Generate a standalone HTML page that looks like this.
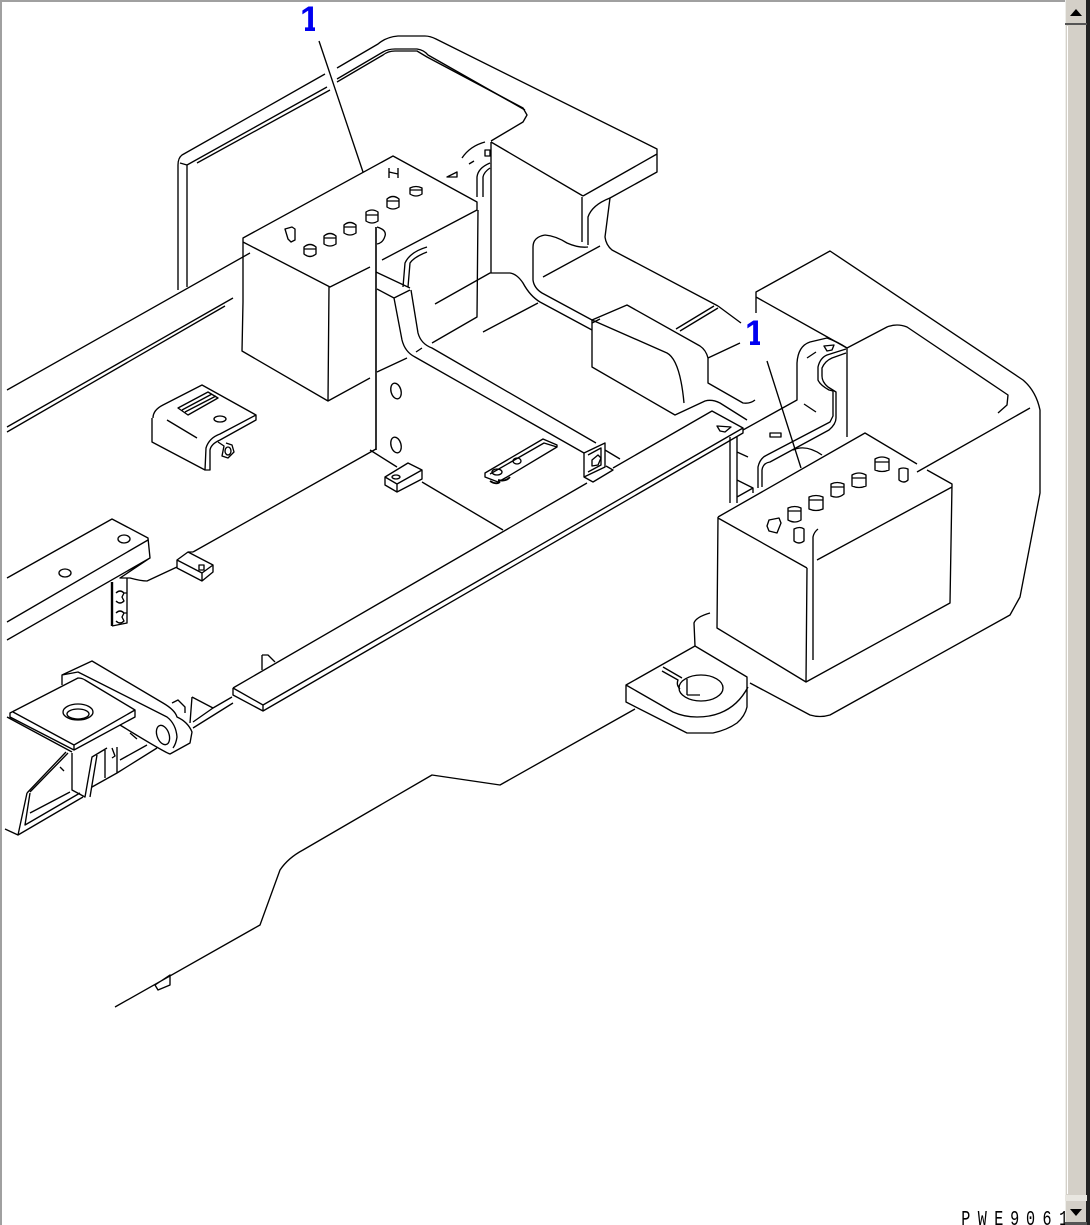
<!DOCTYPE html>
<html><head><meta charset="utf-8"><style>
html,body{margin:0;padding:0;background:#fff;width:1090px;height:1225px;overflow:hidden}
svg{display:block}
.l{fill:none;stroke:#000;stroke-width:1.35;stroke-linejoin:round}
</style></head><body>
<svg width="1090" height="1225" viewBox="0 0 1090 1225" xmlns="http://www.w3.org/2000/svg">
<rect x="0" y="0" width="1090" height="1225" fill="#fff"/>
<rect x="0" y="0" width="1090" height="2" fill="#a0a0a0"/>
<rect x="0" y="0" width="2" height="1225" fill="#a0a0a0"/>
<g class="l">
<!-- rear panel -->
<path d="M178 290V165Q178 158 182 155L325 74M337 68L378 44Q386 37 398 36H425Q430 36 436 39L657 149V172L610 198M583 196L657 154M583 196L491 142"/>
<path d="M187 287V165L327 87M197 163L330 90M337 82L383 55Q388 51 395 51H417L427 57L523 108L527 115L523 122L491 141M180 163L187 165"/>
<path d="M337 79L383 52Q388 49 395 49H417Q424 50 428 55L525 110"/>
<path d="M319 41L363 172"/>
<!-- battery 1 -->
<path d="M243 250V238L393 156L477 202V210L382 260M243 242L330 287L370 267M243 250V302L242 351L328 401L370 378M329 287L328 401M478 210L477 317L432 343"/>
<path d="M285 229l7-2l3 2v11l-4 2l-3-3zM304 247q6-5 12 0v7q-6 5-12 0zM324 236q6-5 12 0v8q-6 4-12 0zM344 225q6-5 12 0v8q-6 4-12 0zM366 212q6-4 12 0v9q-6 4-12 0zM387 199q6-5 12 0v8q-6 4-12 0zM410 188q6-3 12 0v6q-6 4-12 0zM389 168v10M398 168v10M389 172l9 2"/>
<path d="M304 249h12M324 238h12M344 227h12M366 215h12M387 201h12M410 190h12"/>
<path d="M376 227V450" stroke-width="1.6"/>
<path d="M377 227q10 3 8 9q-2 7-8 8"/>
<!-- rear riser details -->
<path d="M491 142V273M447 177L457 172V177ZM462 158Q470 146 485 142M469 164L474 161M485 150h5v6h-5zM477 197V177Q478 168 490 163M483 197V177Q484 172 490 168"/>
<path d="M582 197V242M588 245V217Q592 205 610 198L605 237Q606 245 612 250L718 306M545 235Q533 237 533 247V280Q534 288 542 293L592 320M545 235Q556 236 567 243Q578 248 588 247"/>
<path d="M543 277L600 246M435 304L490 273H510Q517 274 523 283Q530 296 540 302L592 330M483 332L538 303"/>
<!-- bar from battery -->
<path d="M376 272L410 288M377 289L394 298L410 290M394 298L402 340Q405 352 415 357L584 453M411 290L418 333Q421 344 432 348L596 443"/>
<path d="M403 287L405 263Q410 252 427 247M408 287L410 263Q414 257 427 252"/>
<path d="M377 372L407 358M416 352L422 348"/>
<ellipse cx="396" cy="391" rx="5" ry="8" transform="rotate(-15 396 391)"/>
<ellipse cx="396" cy="445" rx="5" ry="8" transform="rotate(-15 396 445)"/>
<!-- floor lines -->
<path d="M376 449L193 552M370 450L397 467M422 482L503 530"/>
<path d="M385 477L408 463L422 470V479L397 492L385 485ZM385 477L397 484L422 470M397 484V492"/>
<ellipse cx="396" cy="477" rx="4" ry="2"/>
<!-- center pad -->
<path d="M592 320V367L675 415L705 401Q712 399 720 403L747 420M592 320L627 305L700 346Q706 350 708 358V383L743 403Q750 404 755 400M592 320L667 353Q680 360 684 403M708 358L740 343M680 331L718 308M676 329L714 306M718 306L741 323"/>
<path d="M600 319L592 323"/>
<!-- long strip -->
<path d="M233 688L587 483M613 468L712 411L743 428L263 705L233 688M233 688V695L263 711L743 433V428M263 705V711"/>
<path d="M717 426l14 1l-6 5l-5-1z"/>
<path d="M584 453L605 443V467L584 477ZM588 455L601 448V465L588 472M584 477L593 482L613 470L606 466M605 450L620 459"/>
<path d="M592 460l6-5l3 3l-3 7l-6 1z"/>
<path d="M485 473L543 439L557 445V447L507 477L498 482L485 477ZM490 474L544 443L557 447"/>
<ellipse cx="517" cy="461" rx="4" ry="3"/><ellipse cx="497" cy="472" rx="5" ry="3"/>
<path d="M490 481q6 4 10 1M498 480q8 2 12-3" stroke-width="1.8"/>
<!-- right rear -->
<path d="M743 430L797 400V363Q798 346 810 342L827 338Q838 342 847 348V437M847 348L887 327Q897 323 907 327L1008 395L1007 405L998 413"/>
<path d="M756 313V292L830 251L1023 380Q1036 391 1040 410V493L1020 597L1010 615L830 715Q820 718 810 715L750 683M756 297L847 348M1030 408L917 472"/>
<path d="M758 488V467Q760 458 767 455L830 422L833 416V391L829 390Q820 385 818 380V367Q820 358 827 355L846 349"/>
<path d="M762 487V470Q763 463 770 462L829 430Q836 424 836 418V392L828 387Q822 382 822 376V368Q825 361 832 358L846 353"/>
<path d="M793 450Q806 444 822 455M730 437V503M737 437V503M737 452L748 457M737 480L753 488V493M737 497L753 488M770 433h11v4h-11z"/>
<path d="M767 361L801 468M807 358L816 352M804 404L816 412M824 346l10-1l-2 5l-5 1z"/>
<!-- battery 2 -->
<path d="M718 517L865 433L917 464M927 470L952 484V487L817 560M718 518L807 568M718 517L717 628L806 682M807 568L806 682L950 603L952 484M813 660V537Q814 532 818 529"/>
<path d="M769 520l10-2l2 5l-4 10l-8-2l-2-5zM788 508q7-3 13 0v12q-6 4-13 0zM809 497q7-3 14 0v12q-7 3-14 0zM831 484q6-3 13 0v10q-6 5-13 2zM852 475q7-4 14 0v11q-7 3-14 0zM875 459q7-4 14 0v11q-7 3-14 0zM899 469q4-2 9 0v11q-4 4-9 0zM794 529q6-3 10 0v12q-5 4-10 0z"/>
<path d="M788 511h13M809 500h14M831 487h13M852 478h14M875 462h14"/>
<!-- tow hook -->
<path d="M626 685L695 646L747 677V707Q745 716 737 723Q727 730 713 733H687L626 702ZM626 685L673 712Q684 717 697 717Q710 717 720 713Q738 706 748 687"/>
<ellipse cx="701" cy="688" rx="22" ry="13"/>
<path d="M663 667L682 678M662 671L678 680Q676 685 680 689M687 679V695M687 695H700M695 646L694 623Q696 617 710 613"/>
<!-- outline bottom -->
<path d="M635 709L500 785L432 775L303 850Q288 858 280 870L260 925L115 1007M155 985L170 975V985L158 990Z"/>
<!-- left lines -->
<path d="M7 390L250 253M7 427L233 298M7 432L225 306"/>
<!-- mid-left bracket -->
<path d="M153 418Q153 410 163 405L202 385L256 415V420L220 440Q211 444 210 450V470L205 470L152 442V418M205 470L206 448Q209 438 220 434L256 415M178 408L208 392L218 398L188 415ZM182 410L212 394M185 412L216 396M167 420L197 438"/>
<ellipse cx="220" cy="419" rx="6" ry="3"/>
<path d="M218 442L224 446L222 456L228 458L234 452L232 445L226 443"/>
<ellipse cx="228" cy="451" rx="3" ry="4"/>
<!-- left bar -->
<path d="M7 578L112 519L148 538L150 558L7 640M7 622L148 540M150 558L120 578H130Q141 581 147 581L177 567M188 552L193 552"/>
<ellipse cx="124" cy="539" rx="6" ry="4"/><ellipse cx="65" cy="573" rx="6" ry="4"/>
<path d="M127 578V623L112 626"/>
<path d="M112 582V626" stroke-width="2.4"/>
<path d="M116 593q4-4 8 0l-2 4l2 4q-4 4-8 0M124 593h3M116 613q4-4 8 0l-2 4l2 4q-4 4-8 0M124 613h3"/>
<path d="M177 560L188 552L213 565V572L202 581L177 568ZM177 560L202 573L213 565M202 573V581M199 565h5v5h-5z"/>
<!-- lower-left assembly -->
<path d="M10 713L78 678Q82 678 85 680L135 710V717L74 750L10 717ZM13 712L74 745L135 710M7 717L72 752M74 745V750"/>
<ellipse cx="78" cy="712" rx="15" ry="8"/><ellipse cx="78" cy="714" rx="11" ry="5"/>
<path d="M62 685V675L92 661L163 703Q175 710 177 717Q188 722 192 732L190 743L170 754Q164 752 120 725M62 675L78 672L167 717Q176 724 177 737Q176 744 173 748"/>
<ellipse cx="163" cy="735" rx="6" ry="10" transform="rotate(-20 163 735)"/>
<path d="M72 753V790L85 797L92 757L107 748M97 755L90 797M105 750V778M117 747V773L157 748M120 760L147 745M130 733L137 739M112 748l3 8l-3 2M92 787L117 773"/>
<path d="M30 792L68 753M27 793L66 752M27 793L18 835M30 793L25 825L80 793M30 813L70 792M5 829L18 835L83 797M60 767L64 771"/>
<path d="M193 728L233 703M193 722L213 708L232 697M192 697L190 723M192 697L213 708M172 703L178 700L185 707V713M262 655V670M262 655H268L275 662"/>
</g>
<g font-family="Liberation Sans, sans-serif" font-weight="bold" font-size="35" fill="#0000f0">
<text x="300" y="31">1</text>
<text x="745" y="345">1</text>
</g>
<rect x="298" y="27" width="7" height="5" fill="#fff"/><rect x="315" y="27" width="5" height="5" fill="#fff"/>
<rect x="743" y="341" width="7" height="5" fill="#fff"/><rect x="760" y="341" width="5" height="5" fill="#fff"/>
<text font-family="Liberation Mono, monospace" font-size="21" fill="#000" y="1225" transform="scale(.72 1)" x="1335 1358 1381 1403 1425 1448 1471">PWE9061</text>
<!-- scrollbar -->
<rect x="1065" y="0" width="25" height="1225" fill="#d4d0c8"/>
<rect x="1065" y="0" width="1" height="1225" fill="#eeeeea"/>
<rect x="1086" y="0" width="4" height="1225" fill="#222"/>
<rect x="1065" y="23" width="22" height="2" fill="#555"/>
<rect x="1067" y="26" width="1" height="1168" fill="#fff"/>
<rect x="1065" y="1195" width="22" height="6" fill="#e8e6e0"/>
<rect x="1065" y="1222" width="22" height="3" fill="#555"/>
<path d="M1076 9L1082 16H1070Z M1070 1209H1082L1076 1216Z" fill="#000"/>
</svg>
</body></html>
